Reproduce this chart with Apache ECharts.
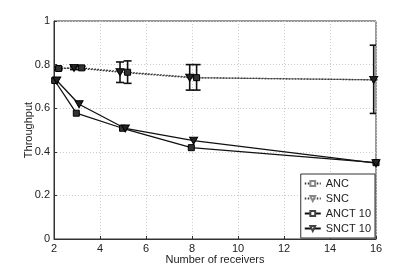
<!DOCTYPE html>
<html><head><meta charset="utf-8">
<script src="https://cdn.jsdelivr.net/npm/echarts@6/dist/echarts.min.js"></script>
<style>html,body{margin:0;padding:0;background:#fff}#c{width:415px;height:270px}</style>
</head><body><div id="c"></div>
<script>
const xTicks = [2, 4, 6, 8, 10, 12, 14, 16];
const yTicks = [0, 0.2, 0.4, 0.6, 0.8, 1];
const seriesNames = ['ANC', 'SNC', 'ANCT 10', 'SNCT 10'];
const ancX = [2.2, 3.2, 5.2, 8.2, 16.2];
const ancY = [0.782, 0.785, 0.765, 0.74, 0.73];
const ancLow = [0.776, 0.777, 0.714, 0.683, 0.576];
const ancHigh = [0.79, 0.793, 0.817, 0.80, 0.889];
const sncX = [1.9, 2.87, 4.87, 7.9, 15.9];
const sncY = [0.782, 0.785, 0.765, 0.74, 0.73];
const sncLow = [0.776, 0.777, 0.718, 0.683, 0.576];
const sncHigh = [0.79, 0.793, 0.812, 0.80, 0.889];
const anctX = [2.03, 2.97, 4.98, 7.97, 16];
const anctY = [0.727, 0.577, 0.508, 0.419, 0.35];
const snctX = [2.12, 3.09, 5.1, 8.07, 16];
const snctY = [0.727, 0.618, 0.507, 0.451, 0.348];

const pairs = (xs, ys) => xs.map((x, i) => [x, ys[i]]);
const errs = (xs, lo, hi) => xs.map((x, i) => [x, lo[i], hi[i]]);
const tri = 'path://M0,0 L10,0 L5,9 Z';
const font = 'Liberation Sans, Arial, sans-serif';

function errItem(params, api) {
  const x = api.value(0);
  const p1 = api.coord([x, api.value(1)]);
  const p2 = api.coord([x, api.value(2)]);
  const w = 4;
  const st = { stroke: '#111', lineWidth: 1.6 };
  return { type: 'group', children: [
    { type: 'line', shape: { x1: p1[0], y1: p1[1], x2: p2[0], y2: p2[1] }, style: st },
    { type: 'line', shape: { x1: p1[0] - w, y1: p1[1], x2: p1[0] + w, y2: p1[1] }, style: st },
    { type: 'line', shape: { x1: p2[0] - w, y1: p2[1], x2: p2[0] + w, y2: p2[1] }, style: st }
  ]};
}

const chart = echarts.init(document.getElementById('c'), null, { renderer: 'canvas' });
chart.setOption({
  animation: false,
  backgroundColor: '#fff',
  textStyle: { fontFamily: font },
  grid: { left: 54, right: 39, top: 21, bottom: 31, show: true, borderColor: '#333', borderWidth: 1, backgroundColor: 'transparent' },
  xAxis: {
    type: 'value', min: xTicks[0], max: xTicks[xTicks.length - 1], interval: 2,
    name: 'Number of receivers', nameLocation: 'middle', nameGap: 15, nameMoveOverlap: false,
    nameTextStyle: { fontSize: 11, color: '#222', fontFamily: font },
    axisLine: { lineStyle: { color: '#333' } },
    axisTick: { inside: true, length: 3, lineStyle: { color: '#333' } },
    axisLabel: { fontSize: 11, color: '#222', margin: 4, fontFamily: font },
    splitLine: { show: true, lineStyle: { color: '#ccc', type: [1, 2] } }
  },
  yAxis: {
    type: 'value', min: yTicks[0], max: yTicks[yTicks.length - 1], interval: 0.2,
    name: 'Throughput', nameLocation: 'middle', nameGap: 20, nameMoveOverlap: false,
    nameTextStyle: { fontSize: 11, color: '#222', fontFamily: font },
    axisLine: { show: true, lineStyle: { color: '#333' } },
    axisTick: { inside: true, length: 3, lineStyle: { color: '#333' } },
    axisLabel: { fontSize: 11, color: '#222', margin: 4, fontFamily: font },
    splitLine: { show: true, lineStyle: { color: '#ccc', type: [1, 2] } }
  },
  legend: {
    orient: 'vertical', right: 40, bottom: 32, itemGap: 4, padding: [4, 4, 4, 3],
    itemWidth: 16, itemHeight: 6, borderColor: '#333', borderWidth: 1, backgroundColor: '#fff',
    textStyle: { fontSize: 11, color: '#222', fontFamily: font },
    data: [
      { name: seriesNames[0], itemStyle: { color: '#fff', borderColor: '#888' } },
      { name: seriesNames[1], itemStyle: { color: '#fff', borderColor: '#888' } },
      { name: seriesNames[2], itemStyle: { color: '#fff', borderColor: '#444' } },
      { name: seriesNames[3], itemStyle: { color: '#fff', borderColor: '#444' } }
    ]
  },
  series: [
    { name: seriesNames[0], type: 'line', data: pairs(ancX, ancY), symbol: 'rect', symbolSize: 6,
      lineStyle: { color: '#333', width: 1.3, type: [1.5, 1.5] }, itemStyle: { color: '#333', borderColor: '#000', borderWidth: 1 }, z: 3 },
    { name: seriesNames[1], type: 'line', data: pairs(sncX, sncY), symbol: tri, symbolSize: [8, 7],
      lineStyle: { color: '#333', width: 1.3, type: [1.5, 1.5] }, itemStyle: { color: '#222', borderColor: '#000', borderWidth: 1 }, z: 3 },
    { name: seriesNames[2], type: 'line', data: pairs(anctX, anctY), symbol: 'rect', symbolSize: 6,
      lineStyle: { color: '#111', width: 1.3 }, itemStyle: { color: '#333', borderColor: '#000', borderWidth: 1 }, z: 3 },
    { name: seriesNames[3], type: 'line', data: pairs(snctX, snctY), symbol: tri, symbolSize: [8, 7],
      lineStyle: { color: '#111', width: 1.3 }, itemStyle: { color: '#222', borderColor: '#000', borderWidth: 1 }, z: 3 },
    { type: 'custom', renderItem: errItem, data: errs(ancX, ancLow, ancHigh), clip: true, encode: { x: 0, y: [1, 2] }, z: 2, silent: true },
    { type: 'custom', renderItem: errItem, data: errs(sncX, sncLow, sncHigh), clip: true, encode: { x: 0, y: [1, 2] }, z: 2, silent: true }
  ]
});
</script></body></html>
